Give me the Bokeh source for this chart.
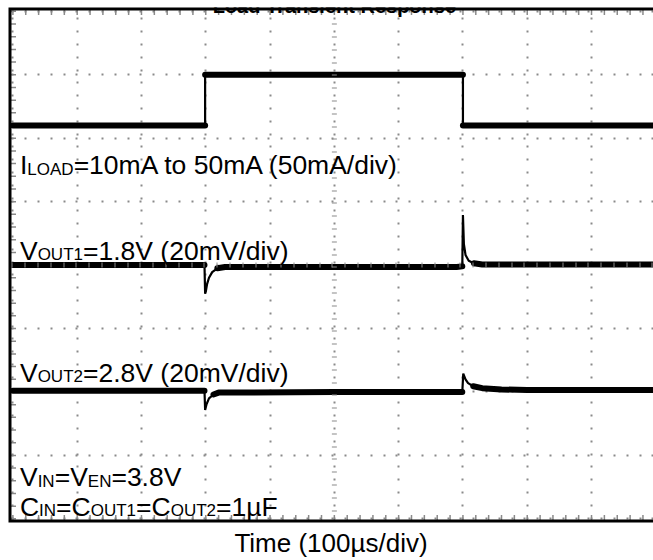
import numpy as np
from bokeh.plotting import figure
from bokeh.models import Range1d, FixedTicker, Label, Span
from bokeh.embed import file_html
from bokeh.resources import INLINE

# ---- data: time in microseconds (100 us/div), levels in screen divisions (8 div tall)
t_iload = [0, 299, 299, 700, 700, 1000]
iload_div = [6.20, 6.20, 7.00, 7.00, 6.20, 6.20]

t_vout1 = [0, 298, 299, 300, 302, 305, 310, 318, 330, 500, 690, 699, 700, 701.5, 704, 709, 717, 730, 850, 1000]
vout1_div = [4.00, 4.00, 3.55, 3.58, 3.70, 3.80, 3.89, 3.95, 3.97, 3.97, 3.97, 3.98, 4.79, 4.33, 4.16, 4.07, 4.03, 4.01, 4.01, 4.01]

t_vout2 = [0, 298, 299, 301, 305, 312, 320, 500, 699, 700.5, 704, 708, 716, 730, 760, 800, 1000]
vout2_div = [2.02, 2.02, 1.715, 1.80, 1.90, 1.96, 1.99, 2.00, 2.00, 2.29, 2.20, 2.14, 2.09, 2.06, 2.04, 2.03, 2.03]

x_major_ticks = list(range(0, 1001, 100))
y_major_ticks = list(range(0, 9))
x_minor_ticks = [float(v) for v in np.arange(0, 1001, 20)]
y_minor_ticks = [round(float(v), 2) for v in np.arange(0, 8.01, 0.2)]

title_text = "Load Transient Response"
xlabel_text = "Time (100µs/div)"

FONT = "Liberation Sans"

# visible screen window (the scope screen is cropped on the right)
X_START, X_END = -6.84, 996.4
Y_START, Y_END = -0.0575, 8.061
# where the small graticule ticks sit just inside the border
TICK_X_LEFT, TICK_Y_TOP, TICK_Y_BOTTOM = 0.93, 7.983, 0.02


def flat_runs(t, y, max_slope=0.004):
    xs, ys, cx, cy = [], [], [], []
    for i in range(len(t) - 1):
        dt = t[i + 1] - t[i]
        flat = dt > 0 and abs(y[i + 1] - y[i]) / dt <= max_slope
        if flat:
            if not cx:
                cx, cy = [t[i]], [y[i]]
            cx.append(t[i + 1]); cy.append(y[i + 1])
        elif cx:
            xs.append(cx); ys.append(cy); cx, cy = [], []
    if cx:
        xs.append(cx); ys.append(cy)
    return xs, ys


p = figure(width=653, height=560, output_backend="svg", toolbar_location=None,
           x_range=Range1d(X_START, X_END), y_range=Range1d(Y_START, Y_END),
           y_axis_location=None,
           min_border_left=8, min_border_right=0, min_border_top=7, min_border_bottom=31)
p.outline_line_color = None
p.background_fill_color = "white"
p.border_fill_color = "white"

# grid: dotted at every minor division
p.xgrid.ticker = FixedTicker(ticks=x_major_ticks)
p.ygrid.ticker = FixedTicker(ticks=y_major_ticks)
p.grid.grid_line_color = "#8a8a8a"
p.grid.grid_line_width = 2
p.grid.grid_line_dash = "2 11 2 11 2 11 2 11 2 10"
p.grid.grid_line_dash_offset = 61

# bottom axis only carries the caption
ax = p.xaxis[0]
ax.axis_line_color = None
ax.major_tick_line_color = None
ax.minor_tick_line_color = None
ax.major_tick_out = 0
ax.major_label_text_color = None
ax.major_label_text_font_size = "1px"
ax.major_label_standoff = 0
ax.axis_label = xlabel_text
ax.axis_label_text_font = FONT
ax.axis_label_text_font_size = "26px"
ax.axis_label_text_font_style = "normal"
ax.axis_label_text_color = "black"
ax.axis_label_standoff = 1

# center graticule axes (small cross ticks)
for loc, dim in [(500, "height"), (4, "width")]:
    p.add_layout(Span(location=loc, dimension=dim, line_color="#8a8a8a", line_width=5,
                      line_dash="1 12 1 12 1 12 1 12 1 11", line_dash_offset=61))

# small ticks along the inner side of the border
p.scatter(x=[TICK_X_LEFT] * len(y_minor_ticks), y=y_minor_ticks, marker="dash", size=5,
          line_color="#8a8a8a", line_width=1.5)
p.scatter(x=x_minor_ticks, y=[TICK_Y_TOP] * len(x_minor_ticks), marker="dash", size=5,
          angle=np.pi / 2, line_color="#8a8a8a", line_width=1.5)
p.scatter(x=x_minor_ticks, y=[TICK_Y_BOTTOM] * len(x_minor_ticks), marker="dash", size=5,
          angle=np.pi / 2, line_color="#8a8a8a", line_width=1.5)

# traces: thin line through everything, thick noisy band on flat parts
for t, y in [(t_iload, iload_div), (t_vout1, vout1_div), (t_vout2, vout2_div)]:
    p.line(t, y, line_color="black", line_width=2.2)
    xs, ys = flat_runs(t, y)
    p.multi_line(xs, ys, line_color="black", line_width=6, line_cap="round")

# thick screen border (left, top, bottom); right side runs off the picture
p.quad(left=[X_START], right=[X_END + 100], bottom=[Y_START], top=[Y_END],
       fill_color=None, line_color="black", line_width=6)

# title (clipped at the top edge as in the original)
p.add_layout(Label(x=500, y=8.092, text=title_text, text_font=FONT, text_font_size="20px",
                   text_font_style="bold", text_align="center", text_baseline="alphabetic",
                   text_color="black"))


def add_text(x, y, pieces):
    off = 0.0
    for txt, sub, w in pieces:
        p.add_layout(Label(x=x, y=y, x_offset=off, y_offset=-4 if sub else 0, text=txt,
                           text_font=FONT, text_font_size="17px" if sub else "26.5px",
                           text_baseline="alphabetic", text_color="black"))
        off += w

x0 = 11.0
add_text(x0, 5.577, [("I", False, 7.37), ("LOAD", True, 46.29), ("=10mA to 50mA (50mA/div)", False, 0)])
add_text(x0, 4.230, [("V", False, 17.68), ("OUT1", True, 45.34), ("=1.8V (20mV/div)", False, 0)])
add_text(x0, 2.302, [("V", False, 17.68), ("OUT2", True, 45.34), ("=2.8V (20mV/div)", False, 0)])
add_text(x0, 0.653, [("V", False, 17.68), ("IN", True, 17.0), ("=V", False, 33.15), ("EN", True, 23.61), ("=3.8V", False, 0)])
add_text(x0, 0.187, [("C", False, 19.13), ("IN", True, 17.0), ("=C", False, 34.61), ("OUT1", True, 45.34),
                     ("=C", False, 34.61), ("OUT2", True, 45.34), ("=1µF", False, 0)])

open("out.html", "w").write(file_html(p, INLINE))
